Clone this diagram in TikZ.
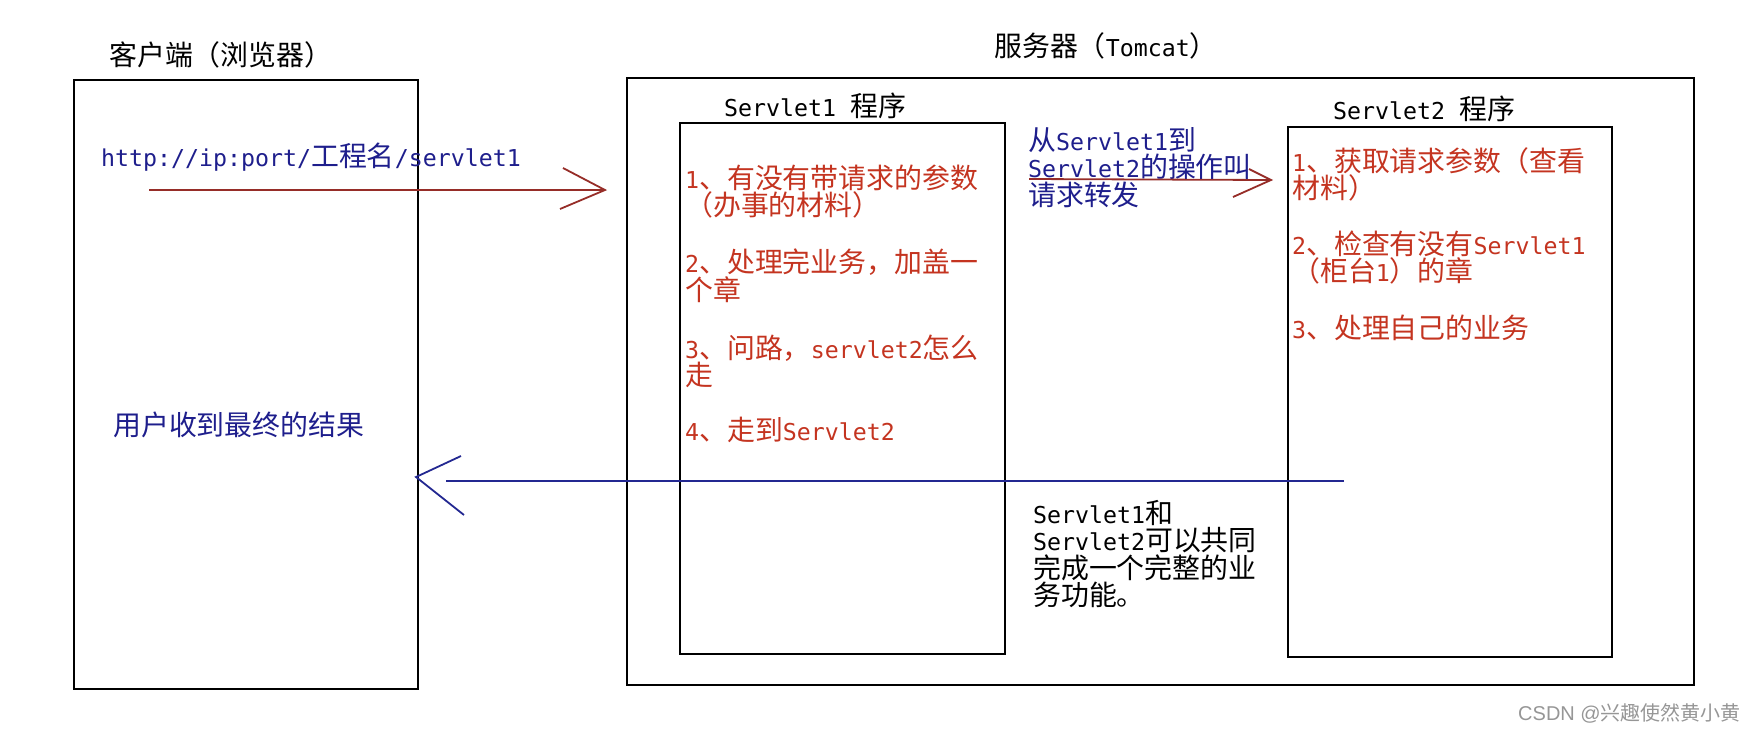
\documentclass[tikz,border=0pt]{standalone}
\usepackage{fontspec}
\setmainfont{DejaVu Sans Mono}
\newfontfamily\cjk{Noto Sans CJK SC}[Scale=1.2]
\newfontfamily\wmcjk{Noto Sans CJK SC}
\newfontfamily\wmlatin{Liberation Sans}
\newcommand\C[1]{{\cjk #1}}
\newcommand\txtfont{\fontsize{23.25}{27.5}\selectfont\lineskiplimit=-30pt\relax}
\definecolor{redT}{RGB}{196,52,32}
\definecolor{blueT}{RGB}{30,30,140}
\definecolor{redL}{RGB}{150,45,40}
\definecolor{blueL}{RGB}{35,40,145}
\definecolor{wmgray}{RGB}{150,150,150}
\tikzset{
  boxst/.style={draw=black, line width=1.8pt, inner sep=0pt, outer sep=0pt, anchor=north west},
  txt/.style={inner sep=0pt, anchor=base west, align=left, font=\txtfont},
  redtxt/.style={txt, text=redT},
  bluetxt/.style={txt, text=blueT},
  blktxt/.style={txt, text=black},
  redline/.style={draw=redL, line width=1.8pt},
  blueline/.style={draw=blueL, line width=1.8pt},
}
\begin{document}
\begin{tikzpicture}[x=1pt,y=-1pt]
\useasboundingbox (0,0) rectangle (1745,732);
% boxes
\node[boxst, minimum width=344pt, minimum height=609pt] (client) at (74,80) {};
\node[boxst, minimum width=1067pt, minimum height=607pt] (server) at (627,78) {};
\node[boxst, minimum width=325pt, minimum height=531pt] (s1box) at (680,123) {};
\node[boxst, minimum width=324pt, minimum height=530pt] (s2box) at (1288,127) {};
% titles
\node[blktxt] (clientTitle) at (109,65) {\C{客户端（浏览器）}};
\node[blktxt] (serverTitle) at (994,56) {\C{服务器（}Tomcat\C{）}};
\node[blktxt] (s1title) at (724,116) {Servlet1 \C{程序}};
\node[blktxt] (s2title) at (1333,119) {Servlet2 \C{程序}};
% client texts
\node[bluetxt] (url) at (101,166) {http://ip:port/\C{工程名}/servlet1};
\node[bluetxt] (result) at (113,435) {\C{用户收到最终的结果}};
% servlet1 text (anchor = baseline of last line)
\node[redtxt] (s1text) at (685,440) {1\C{、有没有带请求的参数}\\\C{（办事的材料）}\\[29.5pt]2\C{、处理完业务，加盖一}\\\C{个章}\\[30.5pt]3\C{、问路，}servlet2\C{怎么}\\\C{走}\\[27pt]4\C{、走到}Servlet2};
% servlet2 text
\node[redtxt] (s2text) at (1292,338) {1\C{、获取请求参数（查看}\\\C{材料）}\\[28pt]2\C{、检查有没有}Servlet1\\\C{（柜台}1\C{）的章}\\[29pt]3\C{、处理自己的业务}};
% middle texts
\node[bluetxt] (fwdtext) at (1028,205) {\C{从}Servlet1\C{到}\\Servlet2\C{的操作叫}\\\C{请求转发}};
\node[blktxt] (note) at (1033,605.5) {Servlet1\C{和}\\Servlet2\C{可以共同}\\\C{完成一个完整的业}\\\C{务功能。}};
% request arrow
\coordinate (reqA) at (149,190);
\coordinate (reqB) at (605,190);
\draw[redline] (reqA) -- (reqB);
\draw[redline] (reqB) ++(-42,-22) -- (reqB) -- ++(-45,19);
% forward arrow
\coordinate (fwdA) at (1029,179);
\coordinate (fwdB) at (1271,180);
\draw[redline] (fwdA) -- (fwdB);
\draw[redline] (fwdB) ++(-22,-11) -- (fwdB) -- ++(-38,17);
% response arrow
\coordinate (respA) at (1344,481);
\coordinate (respB) at (446,481);
\coordinate (respTip) at (416,477);
\draw[blueline] (respA) -- (respB);
\draw[blueline] (respTip) ++(45,-21) -- (respTip) -- ++(48,38);
% watermark
\node[inner sep=0pt, anchor=base west, text=wmgray, font=\wmlatin\fontsize{20}{24}\selectfont] (wm) at (1518,720) {CSDN @{\wmcjk 兴趣使然黄小黄}};
\end{tikzpicture}
\end{document}
